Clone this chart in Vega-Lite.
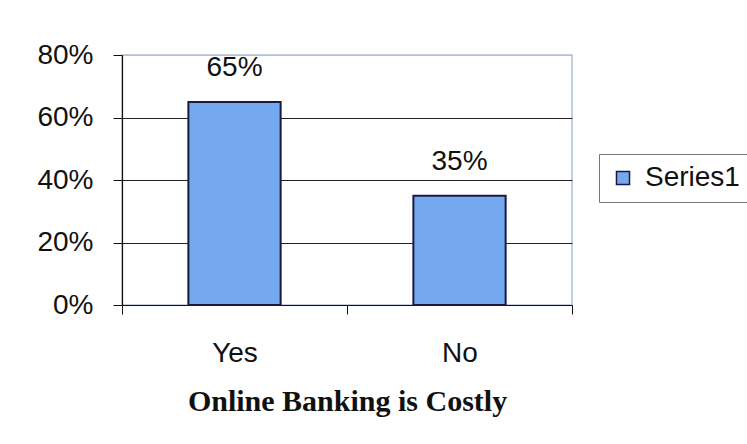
{
  "$schema": "https://vega.github.io/schema/vega-lite/v6.json",
  "autosize": "none",
  "width": 450,
  "height": 250,
  "padding": {"left": 122, "top": 55, "right": 175, "bottom": 139},
  "background": "white",
  "config": {
    "font": "Liberation Sans",
    "view": {"stroke": "#b4c0d2", "strokeWidth": 1.5}
  },
  "data": {
    "values": [
      {"answer": "Yes", "share": 0.65, "series": "Series1"},
      {"answer": "No", "share": 0.35, "series": "Series1"}
    ]
  },
  "encoding": {
    "x": {
      "field": "answer",
      "type": "nominal",
      "sort": null,
      "scale": {"paddingInner": 0, "paddingOuter": 0},
      "axis": {
        "title": "Online Banking is Costly",
        "titleFont": "Liberation Serif",
        "titleFontWeight": "bold",
        "titleFontSize": 30,
        "titleColor": "#111",
        "titlePadding": 19,
        "labelAngle": 0,
        "labelFontSize": 28,
        "labelColor": "#111",
        "labelPadding": 25,
        "tickBand": "extent",
        "tickSize": 9,
        "tickColor": "#111",
        "domainColor": "#111",
        "domainWidth": 1.2
      }
    },
    "y": {
      "field": "share",
      "type": "quantitative",
      "scale": {"domain": [0, 0.8]},
      "axis": {
        "title": null,
        "format": ".0%",
        "values": [0, 0.2, 0.4, 0.6, 0.8],
        "labelFontSize": 28,
        "labelColor": "#111",
        "labelPadding": 20,
        "tickSize": 9,
        "tickColor": "#111",
        "domainColor": "#111",
        "domainWidth": 1.2,
        "grid": true,
        "gridColor": {"condition": {"test": "datum.value >= 0.8", "value": "#b4c0d2"}, "value": "#222"},
        "gridWidth": 1.2
      }
    }
  },
  "layer": [
    {
      "mark": {"type": "bar", "width": {"band": 0.41}, "stroke": "#1a1a40", "strokeWidth": 2},
      "encoding": {
        "color": {
          "field": "series",
          "type": "nominal",
          "scale": {"range": ["#74a9f0"]},
          "legend": {
            "title": null,
            "orient": "none",
            "legendX": 477,
            "legendY": 99,
            "symbolType": "square",
            "symbolSize": 170,
            "symbolStrokeColor": "#1a1a40",
            "symbolStrokeWidth": 1.5,
            "labelFontSize": 28,
            "labelColor": "#111",
            "labelOffset": 8,
            "strokeColor": "#777",
            "padding": 10
          }
        }
      }
    },
    {
      "mark": {"type": "text", "baseline": "bottom", "dy": -20, "fontSize": 28, "color": "#111"},
      "encoding": {
        "text": {"field": "share", "type": "quantitative", "format": ".0%"}
      }
    }
  ]
}
